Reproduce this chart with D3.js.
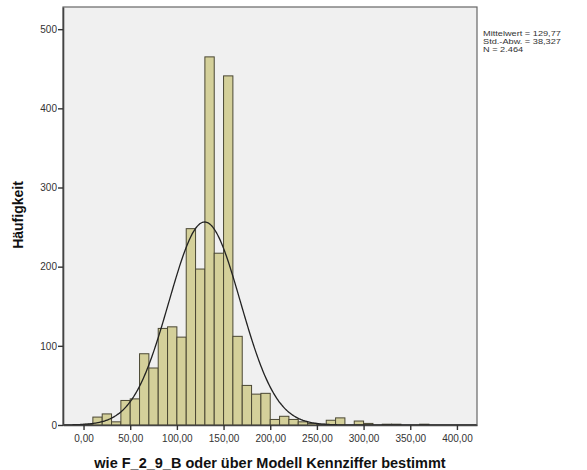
<!DOCTYPE html>
<html lang="de">
<head>
<meta charset="UTF-8">
<script src="https://d3js.org/d3.v7.min.js"></script>
<style>
  html,body{margin:0;padding:0;background:#fff;}
  svg{display:block;font-family:"Liberation Sans", Arial, sans-serif;}
  .tick text{fill:#333;font-size:10px;}
  .legend text{fill:#333;font-size:8px;}
  .title{font-weight:bold;fill:#111;}
</style>
</head>
<body>
<div id="chart"></div>
<script>
// bin lower edges (width 10) and counts
var binStarts = [0,10,20,30,40,50,60,70,80,90,100,110,120,130,140,150,160,170,180,190,
                 200,210,220,230,240,250,260,270,280,290,300,310,320,330,340,350,360];
var counts    = [1,10,14,4,31,33,90,72,122,124,111,248,197,465,217,441,112,50,39,40,
                 7,11,7,4,2,1,6,9,0,5,2,0,1,1,0,0,1];
var binWidth = 10;
var xTicks = [0,50,100,150,200,250,300,350,400];
var yTicks = [0,100,200,300,400,500];
var stats = {mean: 129.77, sd: 38.327, n: 2464};
var legendLines = ["Mittelwert = 129,77", "Std.-Abw. = 38,327", "N = 2.464"];

var width = 587, height = 470;

var svg = d3.select("#chart").append("svg")
    .attr("width", width)
    .attr("height", height);

var x = d3.scaleLinear().domain([-22, 421.5]).range([63, 477]);
var y = d3.scaleLinear().domain([0, 528]).range([425, 7]);

// plot background
svg.append("rect")
    .attr("x", x.range()[0]).attr("y", y.range()[1])
    .attr("width", x.range()[1] - x.range()[0])
    .attr("height", y.range()[0] - y.range()[1])
    .attr("fill", "#f0f0f0")
    .attr("stroke", "#666")
    .attr("stroke-width", 1.2);

// bars
svg.append("g").selectAll("rect")
    .data(counts.map(function(c, i){ return {x0: binStarts[i], c: c}; }).filter(function(d){ return d.c > 0; }))
    .enter().append("rect")
    .attr("x", function(d){ return x(d.x0); })
    .attr("y", function(d){ return y(d.c); })
    .attr("width", function(d){ return x(d.x0 + binWidth) - x(d.x0); })
    .attr("height", function(d){ return y(0) - y(d.c); })
    .attr("fill", "#d4d09a")
    .attr("stroke", "#4a4733")
    .attr("stroke-width", 1);

// normal curve
var k = stats.n * binWidth / (stats.sd * Math.sqrt(2 * Math.PI));
var curveX = d3.range(x.domain()[0], x.domain()[1], 1);
var line = d3.line()
    .x(function(v){ return x(v); })
    .y(function(v){ return y(k * Math.exp(-0.5 * Math.pow((v - stats.mean) / stats.sd, 2))); })
    .curve(d3.curveBasis);
svg.append("path")
    .datum(curveX)
    .attr("d", line)
    .attr("fill", "none")
    .attr("stroke", "#222")
    .attr("stroke-width", 1.3);

// axes
var fmt = function(d){ return d3.format(".2f")(d).replace(".", ","); };
var xAxis = svg.append("g")
    .attr("transform", "translate(0," + y(0) + ")")
    .call(d3.axisBottom(x).tickValues(xTicks).tickFormat(fmt).tickSize(5).tickSizeOuter(0));
var yAxis = svg.append("g")
    .attr("transform", "translate(" + x.range()[0] + ",0)")
    .call(d3.axisLeft(y).tickValues(yTicks).tickSize(5).tickSizeOuter(0));
[xAxis, yAxis].forEach(function(a){
    a.select(".domain").attr("stroke", "#444").attr("stroke-width", 1.6);
    a.selectAll(".tick line").attr("stroke", "#333").attr("stroke-width", 1.4);
    a.selectAll(".tick text").attr("font-family", null).attr("font-size", null);
});
xAxis.selectAll(".tick text").attr("dy", "0.9em");
yAxis.selectAll(".tick text").attr("x", -6);

// titles
svg.append("text")
    .attr("class", "title")
    .attr("x", (x.range()[0] + x.range()[1]) / 2)
    .attr("y", 468)
    .attr("text-anchor", "middle")
    .style("font-size", "14.5px")
    .text("wie F_2_9_B oder über Modell Kennziffer bestimmt");

svg.append("text")
    .attr("class", "title")
    .attr("transform", "translate(23,215) rotate(-90)")
    .attr("text-anchor", "middle")
    .style("font-size", "14px")
    .text("Häufigkeit");

// legend (slightly widened like the original)
svg.append("g").attr("class", "legend")
    .attr("transform", "translate(483,0) scale(1.15,1)")
    .selectAll("text")
    .data(legendLines)
    .enter().append("text")
    .attr("x", 0)
    .attr("y", function(d, i){ return 36.5 + i * 7.8; })
    .text(function(d){ return d; });
</script>
</body>
</html>
